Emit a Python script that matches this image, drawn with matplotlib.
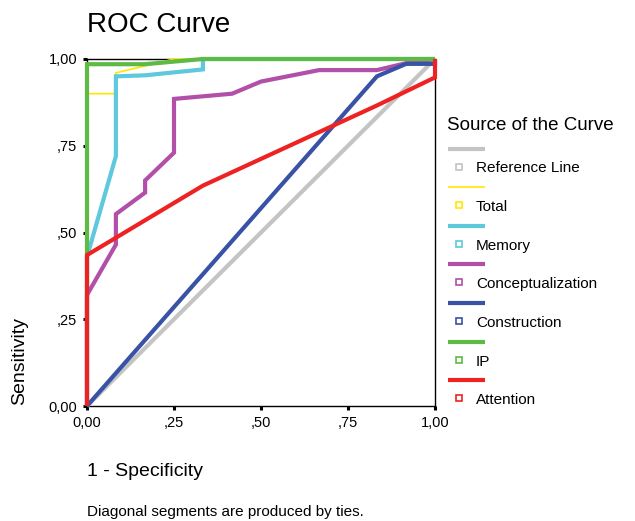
import matplotlib
matplotlib.use("Agg")
import matplotlib.pyplot as plt
from matplotlib.lines import Line2D

plt.rcParams['font.family'] = ['Liberation Sans', 'DejaVu Sans']

# ---- data ----
series_names = ["Reference Line", "Total", "Memory", "Conceptualization",
                "Construction", "IP", "Attention"]
colors = ["#c4c4c4", "#ffe800", "#5ec8dd", "#b24fa9", "#3a52a6", "#5dba45", "#ee2222"]
widths = [3.0, 1.2, 3.0, 3.0, 3.0, 3.0, 3.0]

ref_x = [0.0, 1.0]
ref_y = [0.0, 1.0]

total_x = [0.0, 0.0, 0.083, 0.083, 0.25, 1.0]
total_y = [0.0, 0.90, 0.90, 0.96, 1.0, 1.0]

memory_x = [0.0, 0.0, 0.083, 0.083, 0.167, 0.333, 0.333, 1.0]
memory_y = [0.0, 0.43, 0.72, 0.95, 0.953, 0.97, 1.0, 1.0]

concept_x = [0.0, 0.0, 0.083, 0.083, 0.167, 0.167, 0.25, 0.25, 0.417, 0.5, 0.667, 0.833, 0.917, 1.0]
concept_y = [0.0, 0.32, 0.465, 0.553, 0.615, 0.65, 0.73, 0.885, 0.90, 0.935, 0.968, 0.968, 0.988, 1.0]

construct_x = [0.0, 0.833, 0.917, 1.0, 1.0]
construct_y = [0.0, 0.95, 0.986, 0.986, 1.0]

ip_x = [0.0, 0.0, 0.167, 0.333, 1.0]
ip_y = [0.0, 0.985, 0.985, 1.0, 1.0]

attention_x = [0.0, 0.0, 0.333, 0.833, 1.0, 1.0]
attention_y = [0.0, 0.435, 0.635, 0.866, 0.947, 1.0]

xs = [ref_x, total_x, memory_x, concept_x, construct_x, ip_x, attention_x]
ys = [ref_y, total_y, memory_y, concept_y, construct_y, ip_y, attention_y]

tick_vals = [0.0, 0.25, 0.5, 0.75, 1.0]
tick_labels = ["0,00", ",25", ",50", ",75", "1,00"]

# ---- figure ----
W, H = 635, 521
fig = plt.figure(figsize=(W / 100, H / 100), dpi=100)

def px(x, y):
    return x / W, 1 - y / H

ax_l, ax_r, ax_t, ax_b = 87, 435, 59, 406
ax = fig.add_axes([ax_l / W, 1 - ax_b / H, (ax_r - ax_l) / W, (ax_b - ax_t) / H])

for x, y, c, lw in zip(xs, ys, colors, widths):
    ax.plot(x, y, color=c, lw=lw, solid_joinstyle='miter', solid_capstyle='butt', clip_on=False)

ax.set_xlim(0, 1)
ax.set_ylim(0, 1)
ax.set_xticks(tick_vals)
ax.set_xticklabels(tick_labels)
ax.set_yticks(tick_vals)
ax.set_yticklabels(tick_labels)
ax.tick_params(direction='out', length=3, width=2.2, labelsize=10.5, pad=4, color='black')
for s in ax.spines.values():
    s.set_linewidth(1.0)
    s.set_color('black')
    s.set_zorder(1)

# titles / labels
fig.text(*px(87, 25), "ROC Curve", fontsize=20, ha='left', va='center')
fig.text(*px(87, 472), "1 - Specificity", fontsize=14, ha='left', va='center')
fig.text(*px(20, 405), "Sensitivity", fontsize=14, rotation=90, ha='center', va='bottom')
fig.text(*px(87, 512), "Diagonal segments are produced by ties.", fontsize=11, ha='left', va='center')

# legend (manual, SPSS style)
fig.text(*px(447, 126), "Source of the Curve", fontsize=13.5, ha='left', va='center')
row0_line, row0_lab, step = 148.5, 168.5, 38.6
for i, (name, c, lw) in enumerate(zip(series_names, colors, widths)):
    yl = row0_line + i * step
    yt = row0_lab + i * step
    x0, y0 = px(448, yl)
    x1, _ = px(485, yl)
    fig.add_artist(Line2D([x0, x1], [y0, y0], color=c, lw=lw, transform=fig.transFigure,
                          solid_capstyle='butt'))
    mx, my = px(459, yt - 2)
    fig.add_artist(Line2D([mx], [my], marker='s', markersize=5, markerfacecolor='white',
                          markeredgecolor=c, markeredgewidth=1.2, transform=fig.transFigure))
    fig.text(*px(476, yt), name, fontsize=11, ha='left', va='center')

fig.savefig("out.png", dpi=100)
